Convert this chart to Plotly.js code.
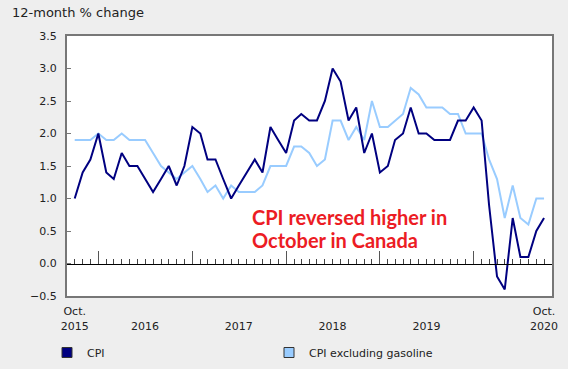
<!DOCTYPE html>
<html>
<head>
<meta charset="utf-8">
<script src="https://cdn.plot.ly/plotly-3.0.1.min.js"></script>
<style>
html, body { margin: 0; padding: 0; background: #eeeeee; }
#chart { width: 568px; height: 369px; }
</style>
</head>
<body>
<div id="chart"></div>
<script>
// ---- data ----
const startYear = 2015, startMonth = 10, monthCount = 61; // Oct 2015 .. Oct 2020
const cpi = [1.0,1.4,1.6,2.0,1.4,1.3,1.7,1.5,1.5,1.3,
             1.1,1.3,1.5,1.2,1.5,2.1,2.0,1.6,1.6,1.3,
             1.0,1.2,1.4,1.6,1.4,2.1,1.9,1.7,2.2,2.3,
             2.2,2.2,2.5,3.0,2.8,2.2,2.4,1.7,2.0,1.4,
             1.5,1.9,2.0,2.4,2.0,2.0,1.9,1.9,1.9,2.2,
             2.2,2.4,2.2,0.9,-0.2,-0.4,0.7,0.1,0.1,0.5,
             0.7];
const cpiExGas = [1.9,1.9,1.9,2.0,1.9,1.9,2.0,1.9,1.9,1.9,
                  1.7,1.5,1.4,1.3,1.4,1.5,1.3,1.1,1.2,1.0,
                  1.2,1.1,1.1,1.1,1.2,1.5,1.5,1.5,1.8,1.8,
                  1.7,1.5,1.6,2.2,2.2,1.9,2.1,1.9,2.5,2.1,
                  2.1,2.2,2.3,2.7,2.6,2.4,2.4,2.4,2.3,2.3,
                  2.0,2.0,2.0,1.6,1.3,0.7,1.2,0.7,0.6,1.0,
                  1.0];
const seriesNames = ['CPI', 'CPI excluding gasoline'];
const tickDates = ['2015-10-01','2016-07-01','2017-07-01','2018-07-01','2019-07-01','2020-10-01'];
const tickLabels = ['Oct.<br>2015',' <br>2016',' <br>2017',' <br>2018',' <br>2019','Oct.<br>2020'];
const yearStarts = ['2016-01-01','2017-01-01','2018-01-01','2019-01-01','2020-01-01'];
const yTitle = '12-month % change';
const noteLines = ['CPI reversed higher in', 'October in Canada'];

// month categories
const months = [];
for (let i = 0; i < monthCount; i++) {
  const m = startMonth - 1 + i;
  const y = startYear + Math.floor(m / 12);
  const mm = (m % 12) + 1;
  months.push(y + '-' + String(mm).padStart(2, '0') + '-01');
}

const darkBlue = '#000080';
const lightBlue = '#99ccff';
const font = 'DejaVu Sans, Verdana, sans-serif';
const xRange = ['2015-09-01', '2020-11-01'];

const traces = [
  {x: months, y: cpiExGas, type: 'scatter', mode: 'lines', line: {color: lightBlue, width: 2}, showlegend: false, hoverinfo: 'skip'},
  {x: months, y: cpi, type: 'scatter', mode: 'lines', line: {color: darkBlue, width: 2}, showlegend: false, hoverinfo: 'skip'},
  {x: [null], y: [null], type: 'scatter', mode: 'markers', name: seriesNames[0],
   marker: {symbol: 'square', size: 10, color: darkBlue, line: {color: '#333', width: 1}}},
  {x: [null], y: [null], type: 'scatter', mode: 'markers', name: seriesNames[1],
   marker: {symbol: 'square', size: 10, color: lightBlue, line: {color: '#333', width: 1}}},
  // invisible trace to activate the zero-line tick axis
  {x: [months[0]], y: [0], xaxis: 'x2', type: 'scatter', mode: 'markers', marker: {opacity: 0}, showlegend: false, hoverinfo: 'skip'}
];

const noteY = [217, 240];
const annotations = noteLines.map((t, i) => ({
  text: t, xref: 'paper', yref: 'paper',
  x: (250 - 67) / 485, y: (296 - noteY[i]) / 260, xanchor: 'left', yanchor: 'middle', align: 'left',
  showarrow: false, font: {family: 'Lato, sans-serif', size: 20, color: '#ec1c24', weight: 'bold'}
}));

const layout = {
  width: 568, height: 369,
  paper_bgcolor: '#eeeeee',
  plot_bgcolor: '#ffffff',
  margin: {l: 67, r: 16, t: 36, b: 73},
  font: {family: font, size: 11, color: '#222'},
  title: {text: yTitle, x: 12/568, xref: 'container', xanchor: 'left',
          y: 1 - 12/369, yref: 'container', yanchor: 'middle',
          font: {family: font, size: 13, color: '#222'}},
  xaxis: {
    type: 'date', range: xRange, showgrid: false, zeroline: false,
    showline: true, linecolor: '#777', linewidth: 2, mirror: true,
    ticks: '', tickmode: 'array', tickvals: tickDates, ticktext: tickLabels,
    tickfont: {family: font, size: 11, color: '#222'}, ticklabelstandoff: 4
  },
  xaxis2: {
    type: 'date', range: xRange, overlaying: 'x', anchor: 'free', position: 0.125,
    showgrid: false, zeroline: false, showline: true, linecolor: '#000', linewidth: 1,
    ticks: 'inside', tickmode: 'array', tickvals: yearStarts, ticklen: 13, tickwidth: 1, tickcolor: '#555',
    showticklabels: false,
    minor: {ticks: 'inside', ticklen: 5, tickwidth: 1, tickcolor: '#444', dtick: 'M1', tick0: months[0], showgrid: false}
  },
  yaxis: {
    range: [-0.5, 3.5], dtick: 0.5, tick0: 0, tickformat: '.1f',
    showgrid: false, zeroline: false,
    showline: true, linecolor: '#777', linewidth: 2, mirror: true,
    ticks: 'inside', ticklen: 4, tickcolor: '#777', tickwidth: 1,
    tickfont: {family: font, size: 11, color: '#222'}, ticklabelstandoff: 6
  },
  legend: {
    orientation: 'h', xref: 'container', yref: 'container',
    x: 47/568, y: 1 - 338/369, xanchor: 'left', yanchor: 'top',
    bgcolor: 'rgba(0,0,0,0)', entrywidthmode: 'pixels', entrywidth: 177,
    font: {family: font, size: 11, color: '#222'}
  },
  annotations: annotations
};

Plotly.newPlot('chart', traces, layout, {displayModeBar: false, staticPlot: true});
</script>
</body>
</html>
